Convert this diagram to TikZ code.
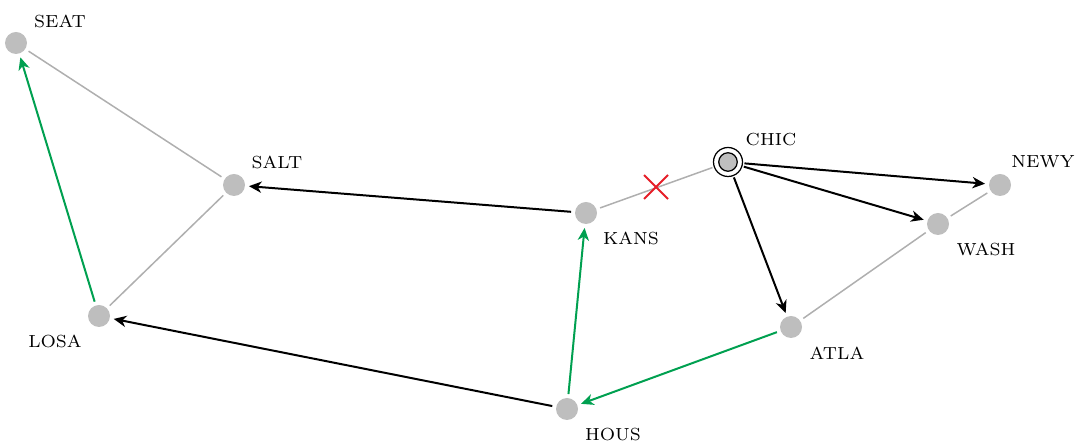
\documentclass[tikz,border=0pt]{standalone}
\usetikzlibrary{arrows.meta}
\definecolor{nodegray}{RGB}{190,190,190}
\definecolor{edgegray}{RGB}{175,175,175}
\definecolor{pathgreen}{RGB}{0,160,80}
\definecolor{xred}{RGB}{230,30,40}
\begin{document}
\begin{tikzpicture}[x=0.4pt,y=-0.4pt,
  city/.style={circle,fill=nodegray,minimum size=8.8pt,inner sep=0pt,outer sep=1.6pt},
  src/.style={circle,draw=black,fill=white,line width=0.5pt,minimum size=11.6pt,inner sep=0pt,outer sep=0.8pt},
  srcin/.style={circle,draw=black,fill=nodegray,line width=0.5pt,minimum size=7.4pt,inner sep=0pt},
  lbl/.style={font=\scriptsize,inner sep=0pt},
  plain/.style={draw=edgegray,line width=0.6pt},
  tree/.style={draw=black,line width=0.8pt,-{Stealth[length=5pt,width=4.5pt,inset=1.5pt]}},
  best/.style={draw=pathgreen,line width=0.8pt,-{Stealth[length=5pt,width=4.5pt,inset=1.5pt]}}]
\useasboundingbox (0,0) rectangle (1086,444);
\node[city] (seat) at (16,43) {};
\node[city] (salt) at (234,185) {};
\node[city] (losa) at (99,316) {};
\node[city] (kans) at (586,213) {};
\node[city] (hous) at (567,409) {};
\node[src]  (chic) at (728,162) {};
\node[srcin] (chicin) at (chic.center) {};
\node[city] (newy) at (1000,185) {};
\node[city] (wash) at (938,224) {};
\node[city] (atla) at (791,327) {};
\node[lbl] (lseat) at (60,21) {SEAT};
\node[lbl] (lsalt) at (277,162) {SALT};
\node[lbl] (llosa) at (55,341) {LOSA};
\node[lbl] (lkans) at (631,238) {KANS};
\node[lbl] (lhous) at (613,435) {HOUS};
\node[lbl] (lchic) at (771,140) {CHIC};
\node[lbl] (lnewy) at (1043,162) {NEWY};
\node[lbl] (lwash) at (986,249) {WASH};
\node[lbl] (latla) at (837,353) {ATLA};
\draw[plain] (seat) -- (salt);
\draw[plain] (salt) -- (losa);
\draw[plain] (kans) -- (chic);
\draw[plain] (wash) -- (newy);
\draw[plain] (wash) -- (atla);
\draw[tree] (kans) -- (salt);
\draw[tree] (hous) -- (losa);
\draw[tree] (chic) -- (newy);
\draw[tree] (chic) -- (wash);
\draw[tree] (chic) -- (atla);
\draw[best] (losa) -- (seat);
\draw[best] (hous) -- (kans);
\draw[best] (atla) -- (hous);
\coordinate (cut) at (656,187);
\draw[xred,line width=0.8pt] ([shift={(-12,-12)}]cut) -- ([shift={(12,12)}]cut)
  ([shift={(-12,12)}]cut) -- ([shift={(12,-12)}]cut);
\end{tikzpicture}
\end{document}
